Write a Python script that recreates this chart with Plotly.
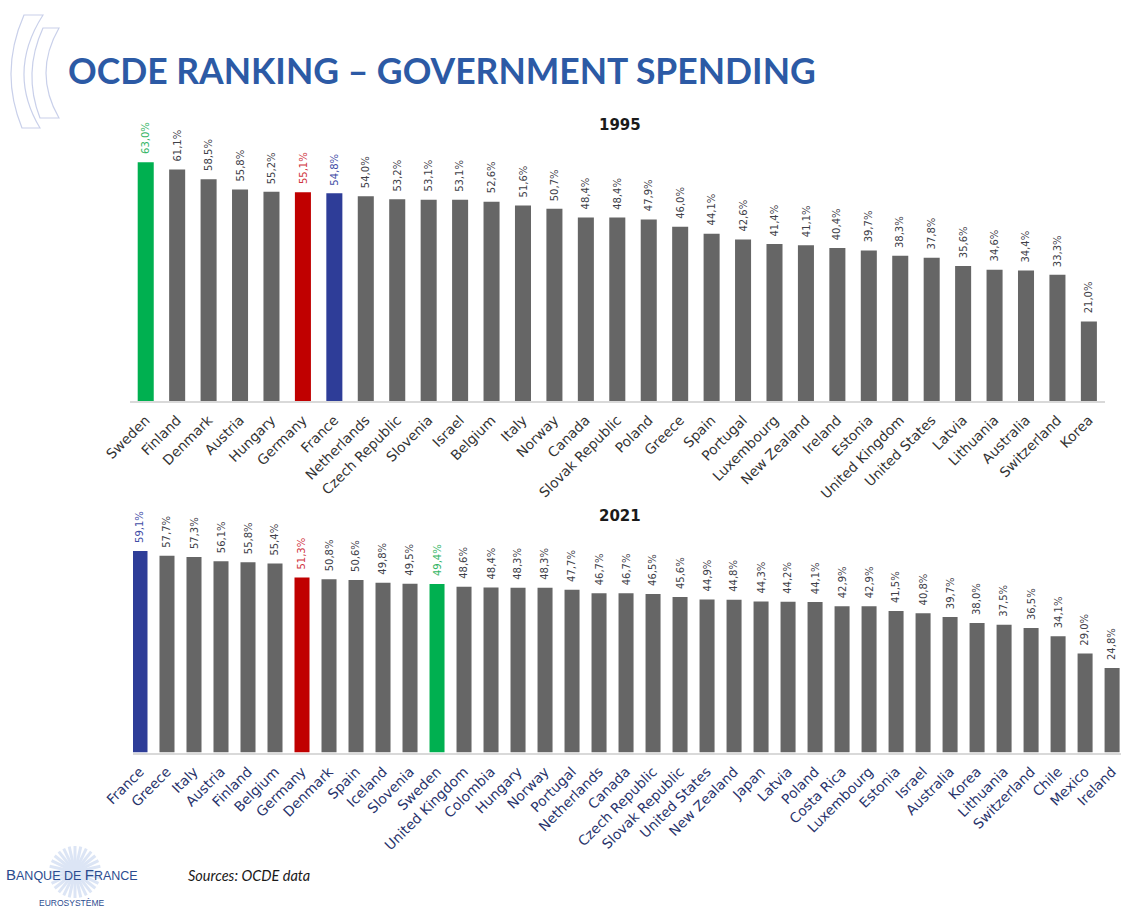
import math
import plotly.graph_objects as go

W, H = 1121, 910

# ---------------- data ----------------
countries_1995 = ["Sweden", "Finland", "Denmark", "Austria", "Hungary", "Germany", "France",
                  "Netherlands", "Czech Republic", "Slovenia", "Israel", "Belgium", "Italy",
                  "Norway", "Canada", "Slovak Republic", "Poland", "Greece", "Spain", "Portugal",
                  "Luxembourg", "New Zealand", "Ireland", "Estonia", "United Kingdom",
                  "United States", "Latvia", "Lithuania", "Australia", "Switzerland", "Korea"]
values_1995 = [63.0, 61.1, 58.5, 55.8, 55.2, 55.1, 54.8, 54.0, 53.2, 53.1, 53.1, 52.6, 51.6,
               50.7, 48.4, 48.4, 47.9, 46.0, 44.1, 42.6, 41.4, 41.1, 40.4, 39.7, 38.3, 37.8,
               35.6, 34.6, 34.4, 33.3, 21.0]

countries_2021 = ["France", "Greece", "Italy", "Austria", "Finland", "Belgium", "Germany",
                  "Denmark", "Spain", "Iceland", "Slovenia", "Sweden", "United Kingdom",
                  "Colombia", "Hungary", "Norway", "Portugal", "Netherlands", "Canada",
                  "Czech Republic", "Slovak Republic", "United States", "New Zealand", "Japan",
                  "Latvia", "Poland", "Costa Rica", "Luxembourg", "Estonia", "Israel",
                  "Australia", "Korea", "Lithuania", "Switzerland", "Chile", "Mexico", "Ireland"]
values_2021 = [59.1, 57.7, 57.3, 56.1, 55.8, 55.4, 51.3, 50.8, 50.6, 49.8, 49.5, 49.4, 48.6,
               48.4, 48.3, 48.3, 47.7, 46.7, 46.7, 46.5, 45.6, 44.9, 44.8, 44.3, 44.2, 44.1,
               42.9, 42.9, 41.5, 40.8, 39.7, 38.0, 37.5, 36.5, 34.1, 29.0, 24.8]

title_text = "OCDE RANKING – GOVERNMENT SPENDING"
year_labels = ["1995", "2021"]
source_text = "Sources: OCDE data"

# ---------------- styles ----------------
GRAY = "#666666"
BAR_COLORS = {"Sweden": "#00B050", "Germany": "#C00000", "France": "#2E3D98"}
TXT_COLORS = {"Sweden": "#35B565", "Germany": "#D0353F", "France": "#3F4DA6"}
VAL_COLOR = "#404048"


def fmt(v):
    return f"{v:.1f}".replace(".", ",") + "%"


def px(x):
    return x / W


def py(y):
    return 1 - y / H


fig = go.Figure()

fig.add_trace(go.Bar(
    x=countries_1995, y=values_1995, xaxis="x", yaxis="y",
    marker=dict(color=[BAR_COLORS.get(c, GRAY) for c in countries_1995], line=dict(width=0)),
    width=0.51, hoverinfo="x+y",
))
fig.add_trace(go.Bar(
    x=countries_2021, y=values_2021, xaxis="x2", yaxis="y2",
    marker=dict(color=[BAR_COLORS.get(c, GRAY) for c in countries_2021], line=dict(width=0)),
    width=0.556, hoverinfo="x+y",
))

annotations = []
for cats, vals, xr, yr in [(countries_1995, values_1995, "x", "y"),
                           (countries_2021, values_2021, "x2", "y2")]:
    for c, v in zip(cats, vals):
        annotations.append(dict(
            x=c, y=v, xref=xr, yref=yr, text=fmt(v), textangle=-90, showarrow=False,
            yanchor="bottom", xanchor="center", yshift=6,
            font=dict(family="DejaVu Sans", size=10, color=TXT_COLORS.get(c, VAL_COLOR)),
        ))

# title
annotations.append(dict(
    x=px(66), y=py(71), xref="paper", yref="paper", xanchor="left", yanchor="middle",
    text="<b>" + title_text + "</b>", showarrow=False,
    font=dict(family="Lato", size=35.5, color="#2C5AA5"),
))
# year subtitles
for lab, yy in zip(year_labels, [125, 516]):
    annotations.append(dict(
        x=px(620), y=py(yy), xref="paper", yref="paper", xanchor="center", yanchor="middle",
        text="<b>" + lab + "</b>", showarrow=False,
        font=dict(family="DejaVu Sans", size=15, color="#1A1A1A"),
    ))
# source
annotations.append(dict(
    x=px(186), y=py(875), xref="paper", yref="paper", xanchor="left", yanchor="middle",
    text="<i>" + source_text + "</i>", showarrow=False,
    font=dict(family="Lato", size=14.5, color="#1A1A1A"),
))
# logo text
annotations.append(dict(
    x=px(72), y=py(874), xref="paper", yref="paper", xanchor="center", yanchor="middle",
    text="<span style='font-size:15px'>B</span>ANQUE DE <span style='font-size:15px'>F</span>RANCE",
    showarrow=False, font=dict(family="Liberation Sans Narrow, Liberation Sans", size=12.5, color="#2B4C8F"),
))
annotations.append(dict(
    x=px(72), y=py(903), xref="paper", yref="paper", xanchor="center", yanchor="middle",
    text="EUROSYSTÈME", showarrow=False,
    font=dict(family="Liberation Sans", size=8.5, color="#2B4C8F"),
))

shapes = []
# decorative crescents
for path_pts in [
    [(24, 15), (-1, 72), (22, 128), (40, 128), (6.5, 72), (43, 15)],
    [(43, 28), (22.5, 73), (40, 118), (59, 118), (33, 73), (59, 28)],
]:
    p = [(px(a), py(b)) for a, b in path_pts]
    d = (f"M{p[0][0]},{p[0][1]} Q{p[1][0]},{p[1][1]} {p[2][0]},{p[2][1]} "
         f"L{p[3][0]},{p[3][1]} Q{p[4][0]},{p[4][1]} {p[5][0]},{p[5][1]} Z")
    shapes.append(dict(type="path", path=d, xref="paper", yref="paper",
                       line=dict(color="#C9D0EA", width=1.2), fillcolor="rgba(0,0,0,0)",
                       layer="below"))
# logo starburst
cx, cy = 75, 872
for k in range(14):
    ang = math.pi * k / 14
    dx, dy = 26 * math.cos(ang), 26 * math.sin(ang)
    shapes.append(dict(type="line", xref="paper", yref="paper",
                       x0=px(cx - dx), y0=py(cy - dy), x1=px(cx + dx), y1=py(cy + dy),
                       line=dict(color="#DCE5F5", width=3), layer="below"))

tick_font_top = dict(family="DejaVu Sans", size=13.8, color="#333333")
tick_font_bot = dict(family="DejaVu Sans", size=13.8, color="#28336B")

fig.update_layout(
    width=W, height=H, margin=dict(l=0, r=0, t=0, b=0, autoexpand=False),
    paper_bgcolor="white", plot_bgcolor="white", showlegend=False,
    xaxis=dict(domain=[px(130), px(1104.6)], range=[-0.5, 30.5], type="category",
               anchor="y", tickangle=-45, tickfont=tick_font_top, showgrid=False,
               showline=True, linecolor="#D9D9D9", linewidth=1.5, ticks="",
               ticklabelstandoff=4, fixedrange=True, automargin=False),
    yaxis=dict(domain=[py(401), py(135.7)], range=[0, 70], visible=False, fixedrange=True,
               automargin=False),
    xaxis2=dict(domain=[px(133), 1.0], range=[-0.259, 36.33], type="category",
                anchor="y2", tickangle=-45, tickfont=tick_font_bot, showgrid=False,
                showline=True, linecolor="#D9D9D9", linewidth=1.5, ticks="",
                ticklabelstandoff=4, fixedrange=True, automargin=False),
    yaxis2=dict(domain=[py(752.5), py(513.8)], range=[0, 70], visible=False, fixedrange=True,
                automargin=False),
    annotations=annotations, shapes=shapes,
)

fig.write_html(
    "out.html",
    config={"displayModeBar": False},
    post_script="document.body.style.margin='0px';document.body.style.overflow='hidden';",
)
